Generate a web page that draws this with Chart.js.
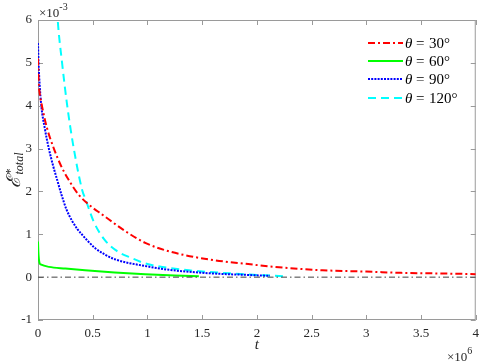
<!DOCTYPE html>
<html>
<head>
<meta charset="utf-8">
<script src="https://cdn.jsdelivr.net/npm/chart.js@4/dist/chart.umd.min.js"></script>
<style>
  html, body { margin: 0; padding: 0; background: #fff; }
  #wrap { width: 485px; height: 363px; position: relative; }
</style>
</head>
<body>
<div id="wrap"><canvas id="myChart"></canvas></div>
<script>
// t in units of 1e6, E*total in units of 1e-3
const tRed = [0, 0.005, 0.015, 0.032, 0.08, 0.145, 0.21, 0.28, 0.373, 0.48, 0.587, 0.8, 0.98, 1.2, 1.57, 1.9, 2.25, 2.6, 3.0, 3.32, 3.7, 4.0];
const eRed = [5.1, 4.6, 4.3, 4.05, 3.5, 3.0, 2.6, 2.27, 1.92, 1.66, 1.46, 1.07, 0.8, 0.6, 0.41, 0.31, 0.22, 0.16, 0.13, 0.1, 0.085, 0.07];

const tGreen = [0, 0.003, 0.008, 0.014, 0.03, 0.1, 0.25, 0.43, 0.7, 0.98, 1.25, 1.47];
const eGreen = [0.83, 0.6, 0.42, 0.33, 0.29, 0.24, 0.2, 0.16, 0.11, 0.07, 0.04, 0.02];

const tBlue = [0, 0.005, 0.015, 0.03, 0.06, 0.099, 0.14, 0.175, 0.215, 0.26, 0.31, 0.36, 0.4, 0.46, 0.525, 0.61, 0.71, 0.98, 1.2, 1.57, 1.93, 2.12];
const eBlue = [5.46, 5.0, 4.5, 4.0, 3.5, 3.0, 2.58, 2.27, 1.92, 1.58, 1.32, 1.12, 1.0, 0.83, 0.67, 0.53, 0.41, 0.26, 0.17, 0.09, 0.05, 0.03];

const tCyan = [0.1, 0.14, 0.18, 0.22, 0.267, 0.327, 0.404, 0.434, 0.51, 0.6, 0.71, 0.86, 0.98, 1.38, 1.75, 2.24];
const eCyan = [10.5, 7.8, 6.0, 5.0, 4.0, 3.0, 2.03, 1.82, 1.29, 0.9, 0.63, 0.44, 0.32, 0.16, 0.09, 0.02];

const tZero = [0, 4];
const eZero = [0, 0];

const xTicks = [0, 0.5, 1, 1.5, 2, 2.5, 3, 3.5, 4];
const yTicks = [-1, 0, 1, 2, 3, 4, 5, 6];
const legendLabels = ['30°', '60°', '90°', '120°'];

function pts(xs, ys) {
  return xs.map((x, i) => ({ x: x, y: ys[i] }));
}

const SERIF = "'Liberation Serif', 'DejaVu Serif', serif";
const AXIS_COLOR = '#9a9a9a';
const TEXT_COLOR = '#262626';

const series = [
  { data: pts(tRed, eRed), color: '#ff0000', dash: [7, 3, 2, 3], width: 2 },
  { data: pts(tGreen, eGreen), color: '#00ff00', dash: [], width: 2 },
  { data: pts(tBlue, eBlue), color: '#0000ff', dash: [2, 1.2], width: 2 },
  { data: pts(tCyan, eCyan), color: '#00ffff', dash: [8, 5], width: 2 },
];

// frame + inward ticks, drawn under the curves
const framePlugin = {
  id: 'frame',
  beforeDatasetsDraw(chart) {
    const ctx = chart.ctx;
    const a = chart.chartArea;
    const xs = chart.scales.x, ys = chart.scales.y;
    ctx.save();
    ctx.strokeStyle = AXIS_COLOR;
    ctx.lineWidth = 1;
    ctx.strokeRect(a.left + 0.5, a.top + 0.5, a.right - a.left - 1, a.bottom - a.top - 1);
    ctx.beginPath();
    xTicks.forEach(v => {
      const px = Math.round(xs.getPixelForValue(v)) + 0.5;
      ctx.moveTo(px, a.bottom); ctx.lineTo(px, a.bottom - 5);
      ctx.moveTo(px, a.top); ctx.lineTo(px, a.top + 5);
    });
    yTicks.forEach(v => {
      const py = Math.round(ys.getPixelForValue(v)) + 0.5;
      ctx.moveTo(a.left, py); ctx.lineTo(a.left + 5, py);
      ctx.moveTo(a.right, py); ctx.lineTo(a.right - 5, py);
    });
    ctx.stroke();
    ctx.restore();
  }
};

// titles, exponents and legend
const decorPlugin = {
  id: 'decor',
  afterDatasetsDraw(chart) {
    const ctx = chart.ctx;
    const a = chart.chartArea;
    ctx.save();
    ctx.fillStyle = TEXT_COLOR;
    ctx.textBaseline = 'alphabetic';

    // exponent labels
    ctx.textAlign = 'left';
    ctx.font = '13px ' + SERIF;
    ctx.fillText('×10', 39, 17);
    let w = ctx.measureText('×10').width;
    ctx.font = '10px ' + SERIF;
    ctx.fillText('-3', 39 + w, 10);

    ctx.font = '13px ' + SERIF;
    ctx.fillText('×10', 447, 361);
    w = ctx.measureText('×10').width;
    ctx.font = '10px ' + SERIF;
    ctx.fillText('6', 447 + w, 354);

    // x title
    ctx.font = 'italic 15px ' + SERIF;
    ctx.textAlign = 'center';
    ctx.fillText('t', (a.left + a.right) / 2, 349);

    // y title
    ctx.save();
    ctx.translate(20, 170);
    ctx.rotate(-Math.PI / 2);
    ctx.textAlign = 'left';
    ctx.font = 'italic 19px ' + SERIF;
    const ew = ctx.measureText('ℰ').width;
    ctx.font = 'italic 12px ' + SERIF;
    const sw = ctx.measureText('total').width;
    const x0 = -(ew + sw + 2) / 2;
    ctx.font = 'italic 19px ' + SERIF;
    ctx.fillText('ℰ', x0, 0);
    ctx.font = '12px ' + SERIF;
    ctx.fillText('*', x0 + ew + 2, -6);
    ctx.font = 'italic 12px ' + SERIF;
    ctx.fillText('total', x0 + ew + 2, 3);
    ctx.restore();

    // legend
    const rows = [43, 61, 79, 98];
    series.forEach((s, i) => {
      const y = rows[i];
      ctx.strokeStyle = s.color;
      ctx.lineWidth = s.width;
      ctx.setLineDash(s.dash);
      ctx.beginPath();
      ctx.moveTo(368, y); ctx.lineTo(403, y);
      ctx.stroke();
      ctx.setLineDash([]);
      ctx.fillStyle = '#000';
      ctx.textAlign = 'left';
      ctx.font = 'italic 15px ' + SERIF;
      ctx.fillText('θ', 405, y + 5);
      ctx.font = '15px ' + SERIF;
      ctx.fillText('=', 416, y + 5);
      ctx.fillText(legendLabels[i], 429, y + 5);
    });

    ctx.restore();
  }
};

const datasets = series.map(s => ({
  data: s.data,
  borderColor: s.color,
  borderDash: s.dash,
  borderWidth: s.width,
  pointRadius: 0,
  fill: false,
  cubicInterpolationMode: 'monotone',
}));
datasets.unshift({
  data: pts(tZero, eZero),
  borderColor: '#404040',
  borderDash: [6, 3, 1.5, 3],
  borderWidth: 1,
  pointRadius: 0,
  fill: false,
});

new Chart(document.getElementById('myChart'), {
  type: 'line',
  data: { datasets: datasets },
  plugins: [framePlugin, decorPlugin],
  options: {
    responsive: true,
    maintainAspectRatio: false,
    animation: false,
    layout: { padding: { left: 0, top: 20, right: 9, bottom: 0 } },
    plugins: { legend: { display: false }, tooltip: { enabled: false } },
    scales: {
      x: {
        type: 'linear',
        min: 0, max: 4,
        afterBuildTicks: sc => { sc.ticks = xTicks.map(v => ({ value: v })); },
        afterFit: sc => { sc.height = 43; },
        grid: { display: false, drawTicks: false },
        border: { display: false },
        ticks: {
          padding: 6,
          color: TEXT_COLOR,
          font: { family: SERIF, size: 13 },
          maxRotation: 0,
          callback: v => String(v),
        },
      },
      y: {
        type: 'linear',
        min: -1, max: 6,
        afterBuildTicks: sc => { sc.ticks = yTicks.map(v => ({ value: v })); },
        afterFit: sc => { sc.width = 38; },
        grid: { display: false, drawTicks: false },
        border: { display: false },
        ticks: {
          padding: 6,
          color: TEXT_COLOR,
          font: { family: SERIF, size: 13 },
          callback: v => String(v),
        },
      },
    },
  },
});
</script>
</body>
</html>
